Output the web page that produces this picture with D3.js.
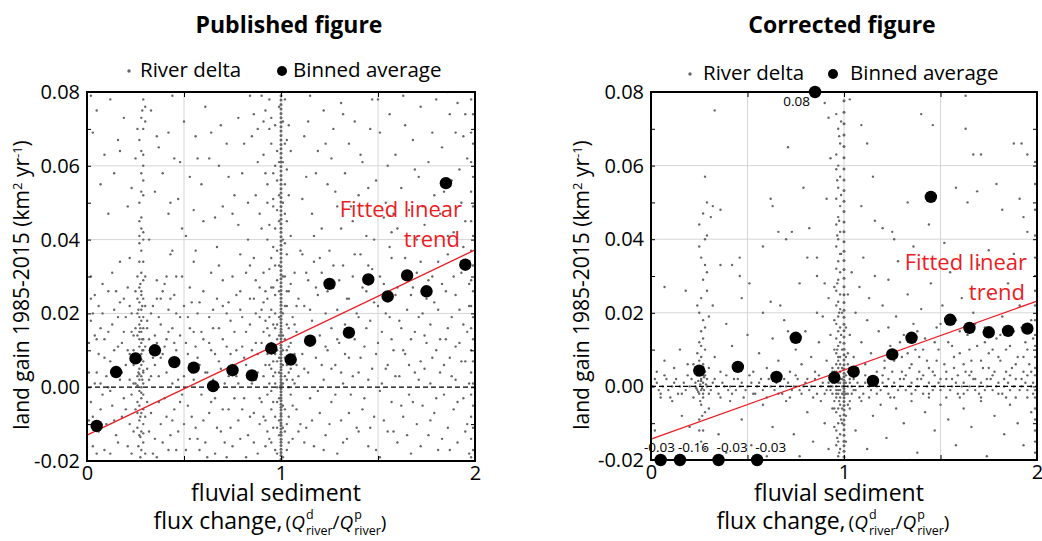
<!DOCTYPE html>
<html>
<head>
<meta charset="utf-8">
<script src="https://cdn.jsdelivr.net/npm/d3@7"></script>
<style>
  body { margin: 0; background: #fff; }
  svg { display: block; font-family: "Open Sans", sans-serif; }
</style>
</head>
<body>
<div id="chart"></div>
<script>
// ---- data ----
const binCenters = [0.05, 0.15, 0.25, 0.35, 0.45, 0.55, 0.65, 0.75, 0.85, 0.95,
                    1.05, 1.15, 1.25, 1.35, 1.45, 1.55, 1.65, 1.75, 1.85, 1.95];

const publishedAverages = [-0.0105, 0.0041, 0.0078, 0.0100, 0.0068, 0.0053, 0.0003, 0.0046, 0.0032, 0.0105,
                           0.0075, 0.0126, 0.0280, 0.0148, 0.0292, 0.0246, 0.0303, 0.0260, 0.0553, 0.0332];

// values outside the axis are pinned to the edge and labelled
const correctedAverages = [-0.03, -0.16, 0.0043, -0.03, 0.0053, -0.03, 0.0026, 0.0132, 0.083, 0.0024,
                           0.0040, 0.0015, 0.0087, 0.0132, 0.0515, 0.0181, 0.0159, 0.0147, 0.0151, 0.0157];

// fitted line, value at x = 0 and at x = 2
const publishedTrend = [-0.0130, 0.0372];
const correctedTrend = [-0.0143, 0.0232];

const xTickLabels = [0, 1, 2];
const yTickLabels = [-0.02, 0, 0.02, 0.04, 0.06, 0.08];

// river deltas with unchanged flux (x = 1), y values only
const publishedUnitColumn = [-.0196,-.0185,-.0177,-.0168,-.0158,-.0149,-.0141,-.0130,-.0122,-.0113,-.0104,-.0097,-.0088,-.0079,-.0071,-.0062,-.0054,-.0046,-.0037,-.0029,-.0021,-.0012,-.0004,.0005,.0013,.0021,.0030,.0038,.0047,.0055,.0063,.0072,.0080,.0089,.0097,.0106,.0114,.0123,.0131,.0140,.0149,.0157,.0166,.0175,.0184,.0193,.0203,.0212,.0222,.0231,.0241,.0252,.0262,.0273,.0283,.0294,.0305,.0316,.0327,.0339,.0350,.0362,.0373,.0385,.0396,.0408,.0420,.0431,.0443,.0455,.0467,.0478,.0490,.0502,.0514,.0526,.0538,.0550,.0562,.0574,.0586,.0598,.0610,.0622,.0634,.0646,.0658,.0670,.0682,.0694,.0706,.0718,.0730,.0742,.0754,.0766,.0778,.0790];

const correctedUnitColumn = [-.0192,-.0176,-.0161,-.0149,-.0133,-.0118,-.0104,-.0091,-.0077,-.0064,-.0052,-.0041,-.0031,-.0022,-.0014,-.0006,.0002,.0009,.0017,.0026,.0036,.0047,.0059,.0072,.0086,.0101,.0117,.0134,.0151,.0169,.0188,.0207,.0228,.0249,.0271,.0294,.0318,.0342,.0367,.0393,.0420,.0447,.0475,.0503,.0532,.0561,.0591,.0621,.0652,.0683,.0714,.0745,.0776];

const publishedDeltas = [
  // sparse upper part, x < 1
  [.29,.078],[.44,.079],[.30,.076],[.28,.073],[.30,.072],[.26,.070],[.29,.070],[.16,.067],[.09,.063],[.17,.064],
  [.25,.062],[.29,.063],[.36,.068],[.42,.069],[.37,.065],[.56,.068],[.63,.062],[.48,.061],[.29,.060],[.28,.058],
  [.28,.053],[.29,.052],[.35,.053],[.43,.050],[.47,.051],[.21,.049],[.59,.055],[.28,.046],[.27,.045],[.42,.047],
  [.55,.048],[.70,.049],[.78,.073],[.85,.068],[.92,.075],[.91,.072],[.27,.041],[.29,.042],[.49,.043],[.29,.040],
  [.32,.040],[.44,.037],[.43,.036],[.22,.035],[.51,.041],[.56,.037],[.67,.038],[.68,.033],[.78,.044],[.83,.040],
  [.86,.035],[.90,.043],[.81,.066],[.88,.061],[.94,.078],[.95,.066],[.73,.057],[.87,.052],[.93,.055],[.96,.049],
  [.66,.046],[.76,.052],[.05,.075],[.02,.079],[.12,.078],[.61,.076],[.69,.071],[.57,.062],[.84,.079],[.94,.070],
  [.97,.060],[.89,.047],[.94,.044],[.13,.031],[.08,.028],[.15,.026],[.36,.029],[.41,.030],[.46,.030],[.53,.027],
  [.58,.023],[.04,.025],[.22,.022],[.20,.019],[.38,.024],[.52,.019],[.63,.019],[.73,.023],[.79,.026],[.82,.031],[.87,.029],
  [.03,.069],[.07,.055],[.11,.047],[.14,.058],[.19,.073],[.23,.054],[.33,.075],[.39,.058],[.45,.062],[.50,.072],
  [.53,.057],[.60,.045],[.64,.069],[.68,.060],[.72,.066],[.75,.047],[.80,.058],[.83,.050],[.86,.074],[.88,.070],
  [.91,.063],[.92,.058],[.93,.050],[.95,.073],[.90,.079],
  // band near x = 0.27
  [.27,.034],[.28,.031],[.29,.029],[.27,.027],[.28,.025],[.29,.024],[.27,.023],[.28,.021],[.26,.020],[.29,.019],
  [.28,.018],[.27,.017],[.29,.016],[.28,.015],[.26,.014],[.27,.013],[.29,.013],[.28,.012],[.27,.011],[.29,.010],
  [.28,.009],[.26,.009],[.27,.008],[.29,.007],[.28,.006],[.27,.005],[.29,.004],[.28,.003],[.26,.003],[.27,.002],
  [.29,.001],[.28,.000],[.27,-.001],[.29,-.002],[.28,-.003],[.26,-.004],[.27,-.005],[.29,-.006],[.28,-.007],[.27,-.009],
  [.29,-.010],[.28,-.012],[.27,-.013],[.29,-.015],[.28,-.017],[.30,-.018],[.26,-.011],[.30,.011],[.25,.016],[.31,.005],
  [.25,.001],[.31,-.004],[.30,.022],[.25,.026],[.31,.018],[.24,.010],[.32,.013],[.30,-.008],[.25,-.006],[.24,.006],
  [.32,.002],[.30,.030],[.26,.030],[.28,.037],[.27,.039],
  [.265,.021],[.275,.016],[.285,.010],[.27,.0035],[.28,-.0015],[.26,-.007],[.29,-.0125],[.275,.028],[.285,.022],[.265,.004],
  [.275,-.008],[.285,.002],[.27,.015],[.28,.0075],[.26,.0005],[.29,.0045],[.275,-.0135],[.265,-.016],[.285,.013],[.27,.019],
  [.28,.026],[.29,.034],[.26,.024],[.28,.043],[.27,.050],[.29,.056],[.28,.064],[.27,.067],[.285,.075],[.275,-.019],
  // lower scatter, x < 0.9
  [.01,.012],[.02,-.004],[.03,.020],[.02,.030],[.05,.004],[.06,-.012],[.03,-.016],[.07,.016],[.09,.008],[.04,.001],
  [.01,-.009],[.08,-.002],[.05,.013],[.02,.018],[.09,-.017],[.06,.022],[.10,.003],[.11,.015],[.12,.007],[.13,-.005],
  [.14,.010],[.15,-.013],[.16,.019],[.17,.002],[.18,.012],[.18,-.008],[.19,.024],[.20,.006],[.21,-.016],[.22,.009],
  [.23,-.002],[.23,.015],[.24,-.012],[.12,-.018],[.17,.034],[.11,.000],[.19,-.003],[.14,.021],[.33,.020],[.33,-.007],
  [.34,.008],[.35,.014],[.35,-.014],[.36,.024],[.37,.003],[.38,.017],[.38,-.010],[.39,.009],[.40,.028],[.40,-.003],
  [.41,.013],[.42,.021],[.42,-.017],[.43,.006],[.44,.016],[.45,-.006],[.45,.025],[.46,.010],[.47,-.012],[.47,.002],
  [.48,.019],[.49,.030],[.49,-.002],[.36,-.019],[.44,-.009],[.51,.012],[.52,-.005],[.54,.004],[.55,.015],[.56,-.011],
  [.57,.008],[.59,-.002],[.60,.013],[.61,-.015],[.62,.004],[.63,-.007],[.64,.010],[.65,.016],[.66,-.003],[.67,.024],
  [.68,.007],[.69,-.012],[.70,.013],[.71,.001],[.72,.020],[.73,-.006],[.74,.009],[.75,.030],[.75,-.016],[.76,.015],
  [.77,.003],[.78,-.009],[.79,.021],[.80,.011],[.81,-.003],[.82,.006],[.83,-.013],[.84,.017],[.85,.001],[.86,.024],
  [.86,-.007],[.87,.012],[.88,-.018],[.88,.004],[.89,.019],[.89,-.010],[.66,-.018],[.58,-.017],[.72,-.019],[.53,-.014],
  [.84,.033],[.79,.036],[.70,.029],[.64,.031],[.55,.034],
  [.01,.004],[.02,.024],[.03,-.008],[.04,.014],[.05,-.018],[.06,.009],[.07,.001],[.07,-.006],[.08,.020],[.09,.013],
  [.10,-.010],[.11,.026],[.12,-.001],[.13,.017],[.14,-.009],[.15,.005],[.16,.011],[.16,-.015],[.17,.023],[.18,.004],
  [.19,.015],[.20,-.006],[.21,.010],[.21,.027],[.22,-.010],[.22,.002],[.23,.020],[.23,-.018],[.24,.014],[.24,.001],
  [.31,.016],[.32,-.012],[.33,.003],[.34,.022],[.34,-.018],[.35,.006],[.36,.012],[.37,-.004],[.37,.019],[.38,.008],
  [.39,-.015],[.39,.026],[.40,.011],[.41,-.008],[.41,.004],[.42,.015],[.43,-.013],[.43,.024],[.44,.001],[.45,.012],
  [.46,-.017],[.46,.020],[.47,.007],[.48,-.004],[.48,.014],[.50,.003],[.50,-.010],[.50,.022],[.51,-.017],[.52,.009],
  [.53,.016],[.54,-.008],[.54,.023],[.55,.002],[.56,.011],[.57,-.014],[.57,.020],[.58,.006],[.59,.015],[.60,-.009],
  [.60,.026],[.61,.004],[.62,-.019],[.63,.012],[.64,-.004],[.65,.021],[.65,.002],[.66,.009],[.67,-.011],[.68,.016],
  [.69,.005],[.70,-.006],[.70,.022],[.71,-.015],[.72,.011],[.73,.003],[.74,-.011],[.74,.018],[.75,.006],[.76,-.003],
  [.77,.025],[.77,.010],[.78,.001],[.79,-.014],[.80,.019],[.80,-.006],[.81,.008],[.82,.015],[.82,-.019],[.83,.003],
  [.84,.024],[.84,-.008],[.85,.010],[.86,-.015],[.87,.002],[.87,.020],[.88,.009],[.89,-.003],[.89,.027],
  // crowd around x = 1
  [.90,.012],[.91,.003],[.91,-.008],[.92,.018],[.92,.026],[.93,-.002],[.93,.009],[.94,.014],[.94,-.014],[.94,.032],
  [.95,.005],[.95,.021],[.95,-.006],[.96,.011],[.96,.038],[.96,-.011],[.97,.001],[.97,.016],[.97,.025],[.97,-.017],
  [.98,.007],[.98,-.004],[.98,.029],[.98,.013],[.99,.019],[.99,-.009],[.99,.004],[.99,.045],[.96,.051],[.97,.043],
  [.98,.056],[.95,.035],[.93,.040],[.92,-.016],[.90,-.004],[.91,.023],[.96,.003],[.97,.009],[.98,.000],[.95,-.001],
  [.94,.006],[.99,-.013],[.98,-.018],[.96,.027],[.93,.016],[.98,.064],[.97,.071],[.99,.076],[.96,.058],[.99,.033],
  [.90,.021],[.91,.015],[.91,.031],[.92,.006],[.92,-.009],[.93,.024],[.93,-.012],[.94,.001],[.94,.019],[.95,.012],
  [.95,.027],[.95,-.015],[.96,.017],[.96,-.004],[.96,.007],[.97,.004],[.97,.020],[.97,-.008],[.97,.033],[.98,.010],
  [.98,.017],[.98,-.011],[.98,.037],[.99,.008],[.99,.014],[.99,-.003],[.99,.026],[.99,.052],[.99,.061],[.98,.048],
  [1.01,.014],[1.01,-.005],[1.01,.030],[1.02,.008],[1.02,-.012],[1.02,.022],[1.02,.047],[1.03,.002],[1.03,.017],[1.03,-.017],
  [1.03,.036],[1.04,.011],[1.04,-.008],[1.04,.026],[1.05,.005],[1.05,-.002],[1.05,.041],[1.06,.019],[1.06,-.014],[1.07,.009],
  [1.07,.031],[1.08,-.006],[1.08,.015],[1.09,.003],[1.09,.024],[1.10,-.010],[1.10,.037],[1.01,.061],[1.02,.055],[1.03,.067],
  [1.04,.052],[1.01,.072],[1.02,.078],[1.03,.059],[1.05,.064],[1.01,-.019],[1.04,.000],[1.06,.002],[1.02,.003],[1.01,.006],[1.03,.010],
  [1.01,.001],[1.01,.010],[1.01,.020],[1.01,-.011],[1.01,.040],[1.02,.013],[1.02,-.006],[1.02,.030],[1.03,.006],[1.03,.022],
  [1.03,-.010],[1.04,.016],[1.04,.004],[1.04,-.015],[1.05,.012],[1.05,.028],[1.06,.008],[1.06,-.005],[1.07,.017],[1.07,.001],
  [1.08,.022],[1.08,.006],[1.09,-.012],[1.01,.050],[1.02,.066],[1.01,.080],[1.03,.045],[1.04,.071],[1.02,.039],[1.03,.026],
  // x > 1.1
  [1.15,.079],[1.22,.075],[1.31,.077],[1.38,.072],[1.47,.078],[1.56,.074],[1.63,.079],[1.72,.076],[1.80,.078],[1.86,.080],
  [1.91,.077],[1.95,.074],[1.12,.068],[1.19,.064],[1.27,.070],[1.35,.066],[1.42,.061],[1.51,.069],[1.59,.063],[1.68,.067],
  [1.76,.061],[1.83,.065],[1.90,.069],[1.96,.062],[1.13,.057],[1.24,.055],[1.33,.058],[1.40,.052],[1.49,.056],[1.54,.050],
  [1.62,.054],[1.71,.057],[1.79,.052],[1.88,.056],[1.93,.050],[1.16,.047],[1.21,.043],[1.29,.049],[1.37,.045],[1.44,.041],
  [1.53,.046],[1.60,.043],[1.66,.048],[1.74,.044],[1.82,.047],[1.89,.042],[1.95,.045],[1.11,.051],[1.26,.062],[1.46,.070],
  [1.14,.072],[1.18,.058],[1.23,.066],[1.28,.053],[1.32,.074],[1.36,.049],[1.41,.063],[1.45,.054],[1.50,.078],[1.55,.060],
  [1.58,.047],[1.64,.071],[1.69,.059],[1.73,.049],[1.78,.069],[1.84,.053],[1.87,.074],[1.92,.059],[1.17,.041],[1.31,.043],
  [1.48,.040],[1.57,.042],[1.70,.040],[1.86,.041],[1.94,.068],
  [1.11,.036],[1.12,.022],[1.12,.005],[1.13,-.011],[1.14,.029],[1.14,.013],[1.15,-.003],[1.16,.018],[1.17,.034],[1.17,-.016],
  [1.18,.008],[1.19,.025],[1.20,-.007],[1.20,.014],[1.21,.031],[1.22,.002],[1.23,.020],[1.23,-.013],[1.24,.010],[1.25,.037],
  [1.26,-.004],[1.26,.016],[1.27,.027],[1.28,.006],[1.29,-.018],[1.29,.021],[1.30,.012],[1.31,-.009],[1.32,.033],[1.32,.001],
  [1.33,.017],[1.34,-.014],[1.35,.024],[1.35,.008],[1.36,-.002],[1.37,.030],[1.38,.013],[1.39,-.011],[1.40,.019],[1.40,.004],
  [1.41,.036],[1.42,-.006],[1.43,.011],[1.44,.026],[1.45,-.016],[1.45,.002],[1.46,.018],[1.47,.032],[1.48,-.008],[1.49,.009],
  [1.50,.022],[1.51,-.001],[1.51,-.019],[1.52,.015],[1.53,.028],[1.54,.005],[1.55,-.012],[1.56,.019],[1.57,.035],[1.57,-.004],
  [1.58,.010],[1.59,.025],[1.60,-.015],[1.61,.003],[1.62,.016],[1.63,-.008],[1.63,.031],[1.64,.009],[1.65,.021],[1.66,-.002],
  [1.67,-.018],[1.67,.013],[1.68,.027],[1.69,.004],[1.70,-.010],[1.71,.019],[1.72,.034],[1.72,.007],[1.73,-.005],[1.74,.014],
  [1.75,.024],[1.76,-.013],[1.77,.001],[1.77,.017],[1.78,.030],[1.79,-.007],[1.80,.010],[1.81,.021],[1.81,-.017],[1.82,.004],
  [1.83,.028],[1.84,-.002],[1.85,.013],[1.86,.036],[1.86,-.011],[1.87,.008],[1.88,.019],[1.89,-.006],[1.90,.025],[1.90,.002],
  [1.91,-.015],[1.92,.012],[1.93,.031],[1.94,-.003],[1.94,.017],[1.95,.007],[1.96,-.010],[1.97,.022],[1.97,.001],
  [1.11,.009],[1.12,-.015],[1.13,.031],[1.14,.004],[1.15,.021],[1.16,-.009],[1.17,.012],[1.18,.027],[1.19,-.001],[1.20,.035],
  [1.21,.006],[1.22,-.017],[1.23,.011],[1.24,.026],[1.25,-.010],[1.26,.005],[1.27,.033],[1.28,-.002],[1.29,.013],[1.30,.029],
  [1.31,.004],[1.32,-.015],[1.33,.009],[1.34,.024],[1.35,-.007],[1.36,.014],[1.37,.003],[1.38,.036],[1.39,.020],[1.40,-.012],
  [1.41,.008],[1.42,.027],[1.43,-.003],[1.44,.016],[1.45,.033],[1.46,-.011],[1.47,.005],[1.48,.023],[1.49,-.017],[1.50,.012],
  [1.51,.030],[1.52,.001],[1.53,-.009],[1.54,.020],[1.55,.006],[1.56,.038],[1.57,.013],[1.58,-.012],[1.59,.003],[1.60,.027],
  [1.61,.018],[1.62,-.005],[1.63,.010],[1.64,.035],[1.65,-.013],[1.66,.006],[1.67,.025],[1.68,-.004],[1.69,.015],[1.70,.031],
  [1.71,.002],[1.72,-.016],[1.73,.020],[1.74,.005],[1.75,.012],[1.76,.029],[1.77,-.009],[1.78,.008],[1.79,.023],[1.80,-.003],
  [1.81,.034],[1.82,.013],[1.83,-.014],[1.84,.006],[1.85,.026],[1.86,.016],[1.87,-.017],[1.88,.003],[1.89,.030],[1.90,.011],
  [1.91,-.004],[1.92,.021],[1.93,.007],[1.94,.038],[1.95,-.012],[1.96,.015],[1.97,.028],[1.97,-.018],
  // column at the right edge
  [1.98,.078],[1.99,.074],[1.98,.069],[1.99,.066],[1.98,.061],[1.99,.057],[1.98,.053],[1.99,.049],[1.98,.045],[1.99,.041],
  [1.98,.037],[1.99,.033],[1.98,.029],[1.99,.026],[1.98,.022],[1.99,.019],[1.98,.016],[1.99,.013],[1.98,.010],[1.99,.007],
  [1.98,.004],[1.99,.001],[1.98,-.002],[1.99,-.005],[1.98,-.008],[1.99,-.011],[1.98,-.014],[1.99,-.017],[1.98,-.019]
];

const correctedDeltas = [
  // sparse upper part, x < 1
  [.33,.075],[.71,.065],[.28,.057],[.29,.050],[.32,.049],[.36,.048],[.25,.044],[.27,.047],[.31,.046],[.29,.041],
  [.26,.035],[.28,.033],[.29,.031],[.36,.033],[.42,.033],[.46,.035],[.46,.030],[.07,.027],[.18,.026],[.29,.026],
  [.32,.022],[.47,.024],[.51,.028],[.62,.051],[.63,.049],[.66,.042],[.73,.042],[.70,.040],[.79,.054],[.82,.043],
  [.91,.051],[.86,.035],[.90,.077],[.92,.073],[.93,.062],[.96,.059],[.58,.038],[.58,.020],[.62,.023],[.67,.022],
  [.77,.028],[.81,.035],[.86,.030],[.90,.028],[.92,.024],[.39,.017],[.24,.022],[.30,.019],
  // cluster near x = 0.26
  [.25,.012],[.26,.008],[.27,.006],[.25,.004],[.26,.002],[.27,.001],[.24,.003],[.28,.004],[.26,-.001],[.25,-.002],
  [.27,-.003],[.26,-.005],[.28,-.007],[.25,-.009],[.27,-.012],[.26,-.015],[.24,.009],[.28,.010],[.26,.015],[.27,.018],
  [.25,.020],[.23,.001],[.29,.002],[.22,.006],[.30,.005],[.27,.013],[.28,.016],[.26,.011],[.25,.007],[.27,.003],
  [.255,.0005],[.265,-.0005],[.26,.0015],[.275,.0025],[.245,-.0015],[.265,.005],[.255,-.004],[.275,-.001],[.26,.0045],[.27,-.002],
  [.245,.0015],[.285,.0005],[.235,-.0005],[.265,-.008],[.25,-.012],[.28,-.017],[.26,.024],[.27,.029],[.25,.038],[.28,.040],
  // band at zero change
  [.01,.000],[.03,.001],[.04,-.001],[.06,.000],[.08,.002],[.09,-.001],[.11,.000],[.12,.001],[.14,-.002],[.15,.000],
  [.17,.001],[.18,-.001],[.20,.000],[.21,.002],[.23,.000],[.24,-.001],[.29,.000],[.31,-.001],[.32,.001],[.34,.000],
  [.35,-.002],[.37,.001],[.38,.000],[.40,-.001],[.41,.000],[.43,.002],[.44,-.001],[.46,.000],[.47,.001],[.49,-.001],
  [.50,.000],[.52,.001],[.53,-.002],[.55,.000],[.56,.001],[.58,-.001],[.59,.000],[.61,.002],[.62,.000],[.64,-.001],
  [.65,.001],[.67,.000],[.68,-.002],[.70,.000],[.71,.001],[.73,-.001],[.74,.000],[.76,.002],[.77,-.001],[.79,.000],
  [.80,.001],[.82,-.001],[.83,.000],[.85,.002],[.86,-.002],[.88,.000],[.89,.001],[.91,-.001],[.92,.000],[.94,.001],
  [1.04,.000],[1.05,-.001],[1.07,.001],[1.08,.000],[1.10,-.002],[1.11,.001],[1.13,.000],[1.14,-.001],[1.16,.002],[1.17,.000],
  [1.19,-.001],[1.20,.001],[1.22,.000],[1.23,-.002],[1.25,.000],[1.26,.001],[1.28,-.001],[1.29,.000],[1.31,.002],[1.32,-.001],
  [1.34,.000],[1.35,.001],[1.37,-.001],[1.38,.000],[1.40,.002],[1.41,-.002],[1.43,.000],[1.44,.001],[1.46,-.001],[1.47,.000],
  [1.49,.001],[1.50,-.001],[1.52,.000],[1.53,.002],[1.55,-.001],[1.56,.000],[1.58,.001],[1.59,-.002],[1.61,.000],[1.62,.001],
  [1.64,-.001],[1.65,.000],[1.67,.002],[1.68,-.001],[1.70,.000],[1.71,.001],[1.73,-.001],[1.74,.000],[1.76,.002],[1.77,-.001],
  [1.79,.000],[1.80,.001],[1.82,-.002],[1.83,.000],[1.85,.001],[1.86,-.001],[1.88,.000],[1.89,.002],[1.91,-.001],[1.92,.000],
  [1.94,.001],[1.95,-.001],[1.97,.000],[1.98,.001],[1.99,-.001],
  [.02,.002],[.05,-.002],[.07,.003],[.10,-.003],[.13,.002],[.16,-.002],[.19,.003],[.22,-.003],[.28,.003],[.30,-.002],
  [.33,.002],[.36,-.003],[.39,.003],[.42,-.002],[.45,.002],[.48,-.003],[.51,.003],[.54,-.002],[.57,.002],[.60,-.003],
  [.63,.003],[.66,-.002],[.69,.002],[.72,-.003],[.75,.003],[.78,-.002],[.81,.002],[.84,-.003],[.87,.003],[.90,-.002],
  [.93,.003],[1.05,.002],[1.08,-.003],[1.11,.003],[1.14,.002],[1.17,-.002],[1.20,.003],[1.23,.002],[1.26,-.003],[1.29,.002],
  [1.32,.003],[1.35,-.002],[1.38,.002],[1.41,.003],[1.44,-.002],[1.47,.003],[1.50,.002],[1.53,-.003],[1.56,.002],[1.59,.003],
  [1.62,-.002],[1.65,.003],[1.68,.002],[1.71,-.003],[1.74,.002],[1.77,.003],[1.80,-.002],[1.83,.002],[1.86,.003],[1.89,-.003],
  [1.92,.002],[1.95,.003],[1.98,-.002],
  // just above / below the band, x < 1
  [.03,.004],[.07,.007],[.12,.005],[.15,.010],[.19,.006],[.33,.008],[.36,.004],[.42,.011],[.45,.006],[.50,.014],
  [.53,.004],[.56,.009],[.60,.005],[.63,.013],[.66,.007],[.69,.018],[.72,.004],[.75,.010],[.78,.006],[.80,.015],
  [.83,.008],[.85,.004],[.87,.012],[.89,.019],[.91,.007],[.93,.014],[.94,.004],[.86,.020],[.71,.015],
  [.05,-.003],[.11,-.004],[.16,-.008],[.20,-.011],[.30,-.006],[.35,-.013],[.41,-.004],[.47,-.009],[.52,-.016],[.58,-.005],
  [.63,-.011],[.70,-.004],[.74,-.013],[.77,-.019],[.81,-.007],[.84,-.015],[.88,-.004],[.90,-.010],[.92,-.017],[.94,-.006],
  [.02,-.012],[.39,-.018],[.60,-.019],
  // crowd just left of x = 1
  [.96,.074],[.97,.070],[.98,.066],[.96,.063],[.97,.060],[.98,.057],[.97,.054],[.96,.051],[.98,.049],[.97,.046],
  [.96,.044],[.98,.042],[.97,.040],[.96,.038],[.98,.036],[.97,.034],[.96,.032],[.98,.031],[.97,.029],[.95,.027],
  [.96,.026],[.98,.025],[.97,.023],[.96,.022],[.98,.021],[.97,.019],[.95,.018],[.96,.017],[.98,.016],[.97,.015],
  [.96,.013],[.98,.012],[.97,.011],[.95,.010],[.96,.009],[.98,.008],[.97,.007],[.96,.006],[.94,.005],[.98,.004],
  [.97,.003],[.96,.002],[.95,.001],[.93,.002],[.98,-.001],[.97,-.002],[.96,-.003],[.95,-.004],[.98,-.005],[.97,-.006],
  [.96,-.007],[.98,-.008],[.97,-.010],[.95,-.011],[.96,-.012],[.98,-.013],[.97,-.015],[.96,-.016],[.98,-.017],[.97,-.019],
  [.94,-.002],[.93,-.001],[.94,.003],[.99,.000],[.99,.010],[.99,-.010],[.99,.020],[1.01,.003],[1.02,-.002],[1.01,-.008],
  [1.02,.009],[1.01,.016],[1.03,.001],[1.01,-.015],
  [.97,.001],[.98,.002],[.96,-.001],[.97,-.001],[.98,.001],[.95,.002],[.96,.000],[.99,.002],[.99,-.002],[.94,.000],
  [.93,.000],[.92,.001],[1.01,.001],[1.02,.000],[1.01,-.002],[1.03,.002],[1.02,.004],[1.04,-.002],[1.03,-.004],[1.05,.003],
  [1.02,.006],[1.01,.008],[1.02,-.005],[1.03,.005],[1.06,-.001],[.95,.004],[.96,-.002],[.97,.005],[.98,-.003],[.95,-.006],
  [.97,.008],[.98,.006],[.96,.004],[.99,.005],[.99,-.006],[.975,.068],[.965,.056],[.975,.045],[.985,.036],[.965,.028],
  [.975,.020],[.985,.014],[.965,.010],[.975,-.004],[.985,-.009],[.965,-.014],[.975,-.018],[.985,.052],[.965,.041],[.985,.072],
  // x > 1
  [1.03,.078],[1.09,.071],[1.12,.066],[1.40,.074],[1.46,.071],[1.63,.079],[1.63,.070],[1.67,.063],[1.71,.063],[1.76,.080],
  [1.88,.066],[1.92,.066],[1.95,.063],[1.15,.057],[1.33,.050],[1.58,.054],[1.69,.053],[1.79,.055],[1.91,.051],[1.64,.050],
  [1.82,.048],[1.20,.043],[1.25,.042],[1.95,.042],[1.09,.049],
  [1.02,.025],[1.03,.014],[1.04,.031],[1.05,.008],[1.06,.020],[1.07,.004],[1.08,.027],[1.09,.012],[1.10,.035],[1.11,.006],
  [1.12,.018],[1.13,.024],[1.14,.009],[1.16,.030],[1.17,.004],[1.18,.015],[1.20,.022],[1.21,.007],[1.23,.029],[1.24,.011],
  [1.25,.004],[1.27,.019],[1.28,.034],[1.30,.008],[1.31,.014],[1.33,.025],[1.34,.005],[1.36,.017],[1.37,.010],[1.39,.004],
  [1.40,.021],[1.42,.013],[1.43,.007],[1.45,.028],[1.46,.004],[1.48,.016],[1.49,.010],[1.51,.022],[1.52,.006],[1.54,.012],
  [1.55,.031],[1.57,.005],[1.58,.018],[1.60,.009],[1.61,.024],[1.63,.004],[1.64,.014],[1.66,.007],[1.67,.020],[1.69,.011],
  [1.70,.033],[1.72,.005],[1.73,.016],[1.75,.009],[1.76,.025],[1.78,.004],[1.79,.013],[1.81,.007],[1.82,.019],[1.84,.010],
  [1.85,.028],[1.87,.005],[1.88,.015],[1.90,.008],[1.91,.022],[1.93,.004],[1.94,.012],[1.96,.006],[1.97,.018],[1.26,.040],
  [1.36,.038],[1.52,.039],[1.75,.037],[1.88,.036],[1.16,.045],[1.44,.044],[1.93,.046],
  [1.21,.005],[1.26,.007],[1.30,.004],[1.35,.006],[1.39,.008],[1.44,.005],[1.48,.007],[1.53,.004],[1.57,.008],[1.62,.006],
  [1.66,.004],[1.71,.007],[1.75,.005],[1.80,.008],[1.84,.004],[1.89,.006],[1.93,.008],[1.97,.004],[1.23,.016],[1.29,.012],
  [1.33,.009],[1.38,.015],[1.41,.010],[1.47,.012],[1.50,.017],[1.56,.011],[1.60,.015],[1.65,.010],[1.68,.017],[1.73,.012],
  [1.77,.010],[1.81,.014],[1.86,.011],[1.92,.016],[1.95,.010],[1.98,.013],
  [1.03,-.006],[1.06,-.012],[1.09,-.004],[1.12,-.017],[1.15,-.008],[1.19,-.005],[1.22,-.014],[1.27,-.006],[1.31,-.010],[1.35,-.004],
  [1.38,-.018],[1.42,-.007],[1.47,-.012],[1.50,-.005],[1.54,-.009],[1.58,-.016],[1.62,-.006],[1.66,-.011],[1.71,-.004],[1.74,-.019],
  [1.78,-.008],[1.83,-.013],[1.86,-.005],[1.90,-.010],[1.93,-.016],[1.97,-.007],[1.34,-.020],[1.60,-.003],[1.84,-.003],[1.13,-.003],
  [1.24,-.003],[1.44,-.003],[1.70,-.002],[1.95,-.003],
  // column at the right edge
  [1.99,.061],[1.99,.055],[1.99,.048],[1.99,.041],[1.99,.035],[1.99,.030],[1.99,.026],[1.99,.022],[1.99,.018],[1.99,.014],
  [1.99,.011],[1.99,.008],[1.99,.005],[1.99,.003],[1.99,-.003],[1.99,-.006],[1.99,-.009],[1.99,-.012],[1.99,-.015],[1.99,-.018]
];

// ---- drawing ----
const svg = d3.select("#chart").append("svg")
    .attr("width", 1042)
    .attr("height", 541)
    .attr("viewBox", [0, 0, 1042, 541]);

const grey = "#666";
const red = "#ec1c24";

// text made of pieces, stacked super/subscripts, centred on cx
function richLine(parent, pieces, cx, baseline) {
    const g = parent.append("g");
    let cursor = 0;
    pieces.forEach(p => {
        if (p.sup) {
            const a = g.append("text").attr("x", cursor).attr("y", -10)
                .style("font-size", p.size + "px").text(p.sup);
            const b = g.append("text").attr("x", cursor).attr("y", 6)
                .style("font-size", p.size + "px").text(p.sub);
            cursor += Math.max(a.node().getComputedTextLength(), b.node().getComputedTextLength()) + (p.after || 0);
        } else {
            const a = g.append("text").attr("x", cursor)
                .style("font-size", p.size + "px")
                .style("font-style", p.italic ? "italic" : null)
                .text(p.t);
            cursor += a.node().getComputedTextLength() + (p.after || 0);
        }
    });
    g.attr("transform", `translate(${cx - cursor / 2},${baseline})`);
}

function drawPanel(cfg) {
    const x = d3.scaleLinear().domain([0, 2]).range([cfg.left, cfg.right]);
    const y = d3.scaleLinear().domain([-0.02, 0.08]).range([cfg.bottom, cfg.top]);
    const g = svg.append("g");

    g.append("clipPath").attr("id", cfg.id + "-clip")
      .append("rect")
        .attr("x", cfg.left).attr("y", cfg.top)
        .attr("width", cfg.right - cfg.left).attr("height", cfg.bottom - cfg.top);

    // grid
    g.append("g").attr("stroke", "#d6d6d6").attr("stroke-width", 1)
        .selectAll("line.v").data([0.5, 1, 1.5]).join("line")
        .attr("x1", d => x(d)).attr("x2", d => x(d))
        .attr("y1", cfg.top).attr("y2", cfg.bottom);
    g.append("g").attr("stroke", "#d6d6d6").attr("stroke-width", 1)
        .selectAll("line.h").data([0.02, 0.04, 0.06]).join("line")
        .attr("y1", d => y(d)).attr("y2", d => y(d))
        .attr("x1", cfg.left).attr("x2", cfg.right);

    // river deltas
    const dots = g.append("g").attr("clip-path", `url(#${cfg.id}-clip)`).attr("fill", grey);
    dots.selectAll("circle.d").data(cfg.deltas).join("circle")
        .attr("cx", d => x(d[0]))
        .attr("cy", d => y(d[1]))
        .attr("r", 1.2);
    dots.selectAll("circle.u").data(cfg.unitColumn).join("circle")
        .attr("cx", x(1))
        .attr("cy", d => y(d))
        .attr("r", 1.5);

    // zero line
    g.append("line")
        .attr("x1", x(0)).attr("x2", x(2))
        .attr("y1", y(0)).attr("y2", y(0))
        .attr("stroke", "#000").attr("stroke-width", 1.2)
        .attr("stroke-dasharray", "5,3");

    // fitted trend
    g.append("line")
        .attr("x1", x(0)).attr("y1", y(cfg.trend[0]))
        .attr("x2", x(2)).attr("y2", y(cfg.trend[1]))
        .attr("stroke", red).attr("stroke-width", 1.3);

    // inward ticks
    const minor = d3.range(-0.02, 0.0801, 0.01);
    g.append("g").attr("transform", `translate(${cfg.left},0)`)
        .call(d3.axisLeft(y).tickValues(minor).tickSize(-4).tickFormat(""))
        .call(a => a.select(".domain").remove());
    g.append("g").attr("transform", `translate(${cfg.right},0)`)
        .call(d3.axisRight(y).tickValues(minor).tickSize(-4).tickFormat(""))
        .call(a => a.select(".domain").remove());
    g.append("g").attr("transform", `translate(0,${cfg.top})`)
        .call(d3.axisTop(x).tickValues([0.5, 1, 1.5]).tickSize(-5).tickFormat(""))
        .call(a => a.select(".domain").remove());
    g.append("g").attr("transform", `translate(0,${cfg.bottom})`)
        .call(d3.axisBottom(x).tickValues([0.5, 1, 1.5]).tickSize(-5).tickFormat(""))
        .call(a => a.select(".domain").remove());

    // frame
    g.append("rect")
        .attr("x", cfg.left).attr("y", cfg.top)
        .attr("width", cfg.right - cfg.left).attr("height", cfg.bottom - cfg.top)
        .attr("fill", "none").attr("stroke", "#000").attr("stroke-width", 2);

    // tick labels
    g.append("g").attr("transform", `translate(${cfg.left},0)`)
        .call(d3.axisLeft(y).tickValues(yTickLabels).tickSize(0).tickPadding(7)
            .tickFormat(d => d.toFixed(2)))
        .call(a => a.select(".domain").remove())
        .call(a => a.selectAll("text").attr("fill", "#000")
            .style("font-size", "20px").style("font-family", "'Open Sans', sans-serif"));
    g.append("g").attr("transform", `translate(0,${cfg.bottom})`)
        .call(d3.axisBottom(x).tickValues(xTickLabels).tickSize(0).tickPadding(5)
            .tickFormat(d3.format("d")))
        .call(a => a.select(".domain").remove())
        .call(a => a.selectAll("text").attr("fill", "#000")
            .style("font-size", "20px").style("font-family", "'Open Sans', sans-serif"));

    // binned averages, pinned to the edge when outside the axis
    const shown = binCenters.map((b, i) => ({
        x: b, v: cfg.averages[i], yv: Math.max(-0.02, Math.min(0.08, cfg.averages[i]))
    }));
    g.append("g").attr("fill", "#000")
        .selectAll("circle").data(shown).join("circle")
        .attr("cx", d => x(d.x)).attr("cy", d => y(d.yv))
        .attr("r", 6.2);

    const over = shown.filter(d => d.v >= 0.08);
    g.selectAll("text.over").data(over).join("text")
        .attr("x", d => x(d.x) - 5).attr("y", d => y(0.08) + 14)
        .attr("text-anchor", "end").style("font-size", "13.5px")
        .text(d => d.v.toFixed(2));

    const under = shown.filter(d => d.v < -0.02);
    const underText = g.selectAll("text.under").data(under).join("text")
        .attr("y", y(-0.02) - 8).style("font-size", "13.5px")
        .text(d => d.v.toFixed(2));
    // left-aligned at the dot, nudged left where they would touch
    const pos = under.map(d => x(d.x) - 2);
    const widths = underText.nodes().map(n => n.getComputedTextLength());
    for (let i = pos.length - 2; i >= 0; i--) {
        if (pos[i] + widths[i] > pos[i + 1] - 3) pos[i] = pos[i + 1] - 3 - widths[i];
    }
    underText.attr("x", (d, i) => pos[i]);

    // trend label
    const tl = g.append("text").attr("fill", red).attr("text-anchor", "end")
        .style("font-size", "22px");
    tl.append("tspan").attr("x", cfg.trendLabel[0]).attr("y", cfg.trendLabel[1]).text("Fitted linear");
    tl.append("tspan").attr("x", cfg.trendLabel[0] - 2).attr("y", cfg.trendLabel[1] + 30).text("trend");

    // title
    g.append("text").attr("x", cfg.titleX).attr("y", 33)
        .attr("text-anchor", "middle")
        .style("font-size", "23px").style("font-weight", "bold")
        .text(cfg.title);

    // legend
    const lg = g.append("g").style("font-size", "20.5px");
    lg.append("circle").attr("cx", cfg.legend[0]).attr("cy", cfg.legendY - 6).attr("r", 1.7).attr("fill", grey);
    lg.append("text").attr("x", cfg.legend[1]).attr("y", cfg.legendY).text("River delta");
    lg.append("circle").attr("cx", cfg.legend[2]).attr("cy", cfg.legendY - 6).attr("r", 5).attr("fill", "#000");
    lg.append("text").attr("x", cfg.legend[3]).attr("y", cfg.legendY).text("Binned average");

    // y axis title
    const yt = g.append("text")
        .attr("transform", `translate(${cfg.yTitleX},285) rotate(-90)`)
        .attr("text-anchor", "middle").style("font-size", "21px");
    yt.append("tspan").text("land gain 1985-2015 (km");
    yt.append("tspan").attr("dy", -7).style("font-size", "13px").text("2");
    yt.append("tspan").attr("dy", 7).text(" yr");
    yt.append("tspan").attr("dy", -7).style("font-size", "13px").text("-1");
    yt.append("tspan").attr("dy", 7).text(")");

    // x axis title
    const cx = (cfg.left + cfg.right) / 2;
    g.append("text").attr("x", cx - 5).attr("y", 501)
        .attr("text-anchor", "middle").style("font-size", "23px")
        .text("fluvial sediment");
    richLine(g, [
        { t: "flux change,", size: 23, after: 3 },
        { t: "(", size: 19 },
        { t: "Q", size: 19, italic: true, after: 1 },
        { sup: "d", sub: "river", size: 12.5 },
        { t: "/", size: 19 },
        { t: "Q", size: 19, italic: true, after: 1 },
        { sup: "p", sub: "river", size: 12.5 },
        { t: ")", size: 19 }
    ], cx - 11, 529);
}

drawPanel({
    id: "published", title: "Published figure", titleX: 289,
    left: 87, right: 475, top: 92, bottom: 461,
    deltas: publishedDeltas, unitColumn: publishedUnitColumn,
    averages: publishedAverages, trend: publishedTrend,
    trendLabel: [462, 217], legend: [129, 140, 282, 293], legendY: 77, yTitleX: 29
});

drawPanel({
    id: "corrected", title: "Corrected figure", titleX: 842,
    left: 651, right: 1037, top: 92, bottom: 460,
    deltas: correctedDeltas, unitColumn: correctedUnitColumn,
    averages: correctedAverages, trend: correctedTrend,
    trendLabel: [1027, 270], legend: [690, 703, 833, 850], legendY: 80, yTitleX: 589
});
</script>
</body>
</html>
